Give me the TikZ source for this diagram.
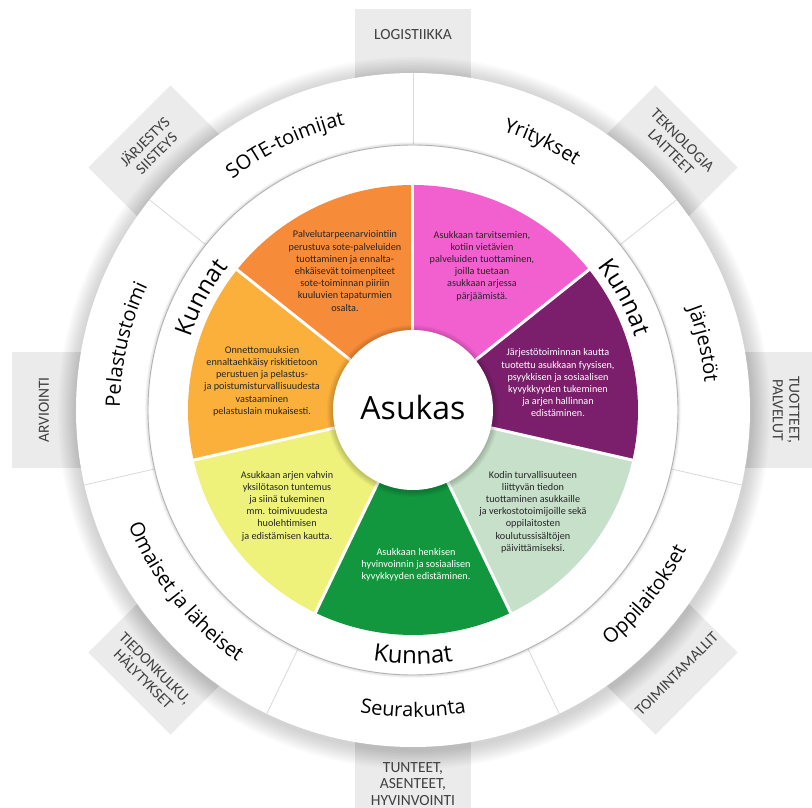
\documentclass[tikz,border=0pt]{standalone}
\usepackage{fontspec}
\setmainfont{Open Sans}
\newfontfamily\smallf{Carlito}
\usetikzlibrary{decorations.text}
\definecolor{boxgrey}{HTML}{EBEBEB}
\definecolor{cOrange}{HTML}{F68B3A}
\definecolor{cLOrange}{HTML}{FBB03B}
\definecolor{cYellow}{HTML}{EEF27B}
\definecolor{cGreen}{HTML}{12973F}
\definecolor{cLGreen}{HTML}{C6E0C9}
\definecolor{cPurple}{HTML}{7B1F6C}
\definecolor{cPink}{HTML}{F25FCF}
\newcommand\lblfont{\fontsize{20}{21}\selectfont}
\newcommand\kunfont{\fontsize{24}{26}\selectfont}
\tikzset{
  boxtext/.style={align=center, text=black!75, font=\smallf\fontsize{15.5}{16.5}\selectfont, inner sep=0pt},
  segtext/.style={align=center, font=\smallf\fontsize{10.2}{12.2}\selectfont, inner sep=0pt},
  divline/.style={draw=black!15, line width=0.8pt},
}
\begin{document}
\begin{tikzpicture}[x=1pt,y=1pt]
\useasboundingbox (-413,-398) rectangle (399,410);
\clip (-413,-398) rectangle (399,410);
% grey boxes
\foreach \a in {90,45,0,-45,-90,-135,180,135}
  \fill[boxgrey, rotate=\a-90] (-58,280) rectangle (58,401);
% outer shadow
\foreach \i in {1,...,12}
  \fill[black, opacity=0.016] (1,-3) circle ({337+\i*1.6});
\fill[white] (0,0) circle (337);
% outer dividers
\foreach \a in {90,141.43,192.86,244.29,295.71,347.14,38.57}
  \draw[divline] (\a:266) -- (\a:337);
% middle circle
\foreach \i in {1,...,4}
  \draw[black, opacity=0.025, line width=\i pt] (0,0) circle (266);
\draw[black!30, line width=0.9pt] (0,0) circle (265);
% coloured wedges
\fill[cOrange] (0,0) -- (90:225) arc[start angle=90, end angle=141.43, radius=225] -- cycle;
\fill[cLOrange] (0,0) -- (141.43:225) arc[start angle=141.43, end angle=192.86, radius=225] -- cycle;
\fill[cYellow] (0,0) -- (192.86:225) arc[start angle=192.86, end angle=244.29, radius=225] -- cycle;
\fill[cGreen] (0,0) -- (244.29:225) arc[start angle=244.29, end angle=295.71, radius=225] -- cycle;
\fill[cLGreen] (0,0) -- (295.71:225) arc[start angle=295.71, end angle=347.14, radius=225] -- cycle;
\fill[cPurple] (0,0) -- (347.14:225) arc[start angle=347.14, end angle=398.57, radius=225] -- cycle;
\fill[cPink] (0,0) -- (38.57:225) arc[start angle=38.57, end angle=90, radius=225] -- cycle;
\foreach \a in {90,141.43,192.86,244.29,295.71,347.14,38.57}
  \draw[white, line width=3pt] (0,0) -- (\a:226);
% centre circle
\foreach \i in {1,...,6}
  \fill[black, opacity=0.03] (0,-1) circle ({80+\i});
\fill[white] (0,0) circle (80);
\node (asukas) at (0,2) {\fontsize{32}{34}\selectfont Asukas};
% segment texts
\node[segtext, text=black!85] (sOrange) at (-68,139) {Palvelutarpeenarviointiin\\perustuva sote-palveluiden\\tuottaminen ja ennalta-\\ehkäisevät toimenpiteet\\sote-toiminnan piiriin\\kuuluvien tapaturmien\\osalta.};
\node[segtext, text=black!85] (sPink) at (69,144) {Asukkaan tarvitsemien,\\kotiin vietävien\\palveluiden tuottaminen,\\joilla tuetaan\\asukkaan arjessa\\pärjäämistä.};
\node[segtext, text=black!85] (sLOrange) at (-151,29) {Onnettomuuksien\\ennaltaehkäisy riskitietoon\\perustuen ja pelastus-\\ja poistumisturvallisuudesta\\vastaaminen\\pelastuslain mukaisesti.};
\node[segtext, text=white] (sPurple) at (145,27) {Järjestötoiminnan kautta\\tuotettu asukkaan fyysisen,\\psyykkisen ja sosiaalisen\\kyvykkyyden tukeminen\\ja arjen hallinnan\\edistäminen.};
\node[segtext, text=black!85] (sYellow) at (-126,-96) {Asukkaan arjen vahvin\\yksilötason tuntemus\\ja siinä tukeminen\\mm. toimivuudesta\\huolehtimisen\\ja edistämisen kautta.};
\node[segtext, text=black!85] (sLGreen) at (120,-102) {Kodin turvallisuuteen\\liittyvän tiedon\\tuottaminen asukkaille\\ja verkostotoimijoille sekä\\oppilaitosten\\koulutussisältöjen\\päivittämiseksi.};
\node[segtext, text=white] (sGreen) at (3,-155) {Asukkaan henkisen\\hyvinvoinnin ja sosiaalisen\\kyvykkyyden edistäminen.};
% Kunnat ring labels
\path[decorate, decoration={text along path, text align=center, text={|\kunfont|Kunnat}}]
  (192:234) arc[start angle=192, end angle=112, radius=234];
\path[decorate, decoration={text along path, text align=center, text={|\kunfont|Kunnat}}]
  (68:234) arc[start angle=68, end angle=-12, radius=234];
\path[decorate, decoration={text along path, text align=center, text={|\kunfont|Kunnat}}]
  (-130:254) arc[start angle=-130, end angle=-50, radius=254];
% outer ring labels
\path[decorate, decoration={text along path, text align=center, text={|\lblfont|SOTE-toimijat}}]
  (165.71:293) arc[start angle=165.71, end angle=65.71, radius=293];
\path[decorate, decoration={text along path, text align=center, text={|\lblfont|Yritykset}}]
  (114.29:293) arc[start angle=114.29, end angle=14.29, radius=293];
\path[decorate, decoration={text along path, text align=center, text={|\lblfont|Järjestöt}}]
  (62.86:293) arc[start angle=62.86, end angle=-37.14, radius=293];
\path[decorate, decoration={text along path, text align=center, text={|\lblfont|Pelastustoimi}}]
  (217.14:293) arc[start angle=217.14, end angle=117.14, radius=293];
\path[decorate, decoration={text along path, text align=center, text={|\lblfont|Oppilaitokset}}]
  (-88.57:307) arc[start angle=-88.57, end angle=11.43, radius=307];
\path[decorate, decoration={text along path, text align=center, text={|\lblfont|Seurakunta}}]
  (-140:307) arc[start angle=-140, end angle=-40, radius=307];
\path[decorate, decoration={text along path, text align=center, text={|\lblfont|Omaiset ja läheiset}}]
  (-201.43:307) arc[start angle=-201.43, end angle=-81.43, radius=307];
% box texts
\node[boxtext] (logi) at (90:375) {LOGISTIIKKA};
\node[boxtext, rotate=-45] (tekno) at (45:373) {TEKNOLOGIA\\LAITTEET};
\node[boxtext, rotate=-90] (tuot) at (0:373) {TUOTTEET,\\PALVELUT};
\node[boxtext, rotate=45] (toim) at (-45:373) {TOIMINTAMALLIT};
\node[boxtext] (tunt) at (-90:374) {TUNTEET,\\ASENTEET,\\HYVINVOINTI};
\node[boxtext, rotate=-45] (tied) at (-135:373) {TIEDONKULKU,\\HÄLYTYKSET};
\node[boxtext, rotate=90] (arvi) at (180:369) {ARVIOINTI};
\node[boxtext, rotate=45] (jarj) at (135:372) {JÄRJESTYS\\SIISTEYS};
\end{tikzpicture}
\end{document}
